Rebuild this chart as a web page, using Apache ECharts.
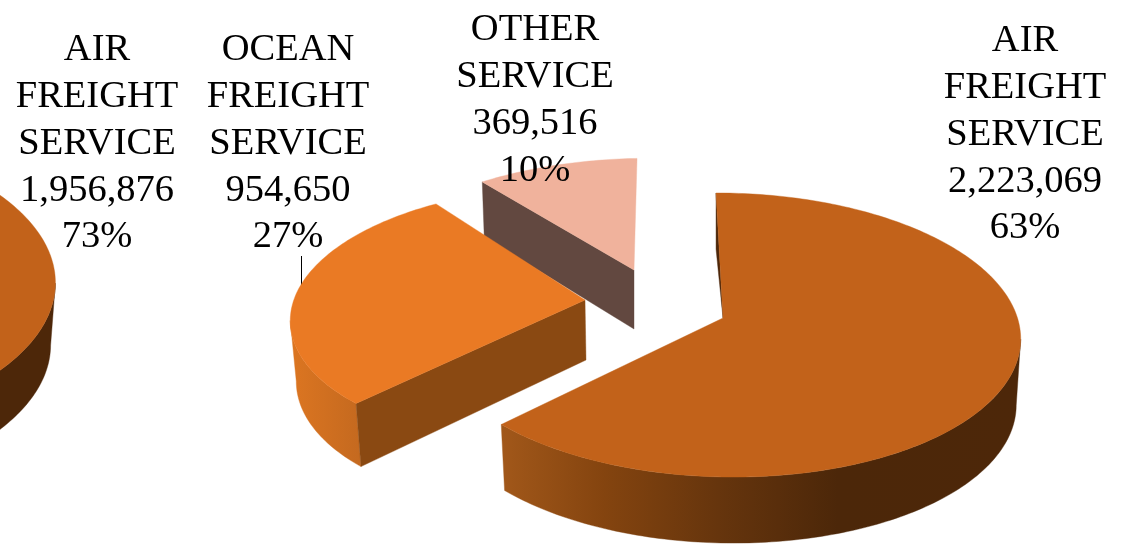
<!DOCTYPE html>
<html><head><meta charset="utf-8">
<style>html,body{margin:0;padding:0;background:#fff}#c{width:1127px;height:549px}</style>
<script src="https://cdn.jsdelivr.net/npm/echarts@6/dist/echarts.min.js"></script>
</head><body><div id="c"></div>
<script>
// ---- data ----
const categories = ['AIR FREIGHT SERVICE', 'OCEAN FREIGHT SERVICE', 'OTHER SERVICE'];
const values = [2223069, 954650, 369516];
const leftCategory = 'AIR FREIGHT SERVICE';
const leftValue = 1956876;
const leftPercent = 73;

// ---- look of each drawn slice: local perspective view ----
const views = [
  {ax:-263,ay:275,a:318,b:0,fy:155,g:0,h:0.05,drop:62,sx:0.985,sy:1,ox:0,top:'#C2621A',wall:'#4D2709'},
  {ax:634,ay:270,a:285,b:3.4,fy:125,g:-0.05,h:0.12,drop:59,sx:0.987,sy:1.045,ox:0,top:'#F0B29C',cut:'#624840'},
  {ax:585,ay:300,a:265,b:8,fy:126,g:0.09,h:0.12,drop:60,sx:0.983,sy:1.03,ox:1,top:'#EA7A24',cut:'#8A4912'},
  {ax:723,ay:318,a:293,b:-7.8,fy:140,g:-0.005,h:0.12,drop:66,sx:0.985,sy:1,ox:0,top:'#C2621A',cut:'#4D2709'}
];

const total = values.reduce((s, v) => s + v, 0);
const deg = v => v / total * 360;
// start and end angles, clockwise from twelve o'clock
const spans = [
  {from: 0, to: leftPercent / 100 * 360},
  {from: deg(values[0]) + deg(values[1]), to: 360},
  {from: deg(values[0]), to: deg(values[0]) + deg(values[1])},
  {from: 0, to: deg(values[0])}
];

function pt(v, t, z) {
  const r = t * Math.PI / 180, s = Math.sin(r), c = Math.cos(r);
  const w = 1 + v.g * s + v.h * c;
  let x = (v.a * s + v.b * c) / w, y = -v.fy * c / w;
  if (z) { x = x * v.sx + v.ox; y = y * v.sy + v.drop; }
  return [v.ax + x, v.ay + y];
}
function apex(v, z) { return z ? [v.ax + v.ox, v.ay + v.drop] : [v.ax, v.ay]; }
function arc(v, a, b, z) {
  const n = Math.max(2, Math.ceil(Math.abs(b - a))), out = [];
  for (let i = 0; i <= n; i++) out.push(pt(v, a + (b - a) * i / n, z));
  return out;
}
// angle of the widest point of the outline on one side
function widest(v, a, b, sign) {
  let best = a, bx = -Infinity;
  for (let t = a; t <= b; t += 0.5) { const x = sign * pt(v, t, 0)[0]; if (x > bx) { bx = x; best = t; } }
  return best;
}
const lg = (x0, x1, stops) => new echarts.graphic.LinearGradient(x0, 0, x1, 0, stops, true);

function renderSlice(params) {
  const i = params.dataIndex, v = views[i], sp = spans[i], kids = [];
  const poly = (points, fill) => kids.push({type:'polygon', shape:{points}, style:{fill, stroke:fill, lineWidth:0.4}});
  if (i === 3) {
    const a = widest(v, 40, 140, 1), b = sp.to;
    poly(arc(v, a, b, 0).concat(arc(v, b, a, 1)), lg(500, 1020, [
      {offset:0, color:'#A2581A'}, {offset:0.2, color:'#84440F'}, {offset:0.42, color:'#66350D'},
      {offset:0.65, color:'#4C2709'}, {offset:1, color:'#4D2709'}]));
    const t0 = pt(v, 0, 0);
    poly([t0, [t0[0], t0[1] + 56], apex(v, 0)], v.cut);
  } else if (i === 2) {
    const b = widest(v, sp.from, sp.to, -1);
    const s0 = pt(v, sp.from, 0), s1 = pt(v, sp.from, 1);
    poly(arc(v, sp.from, b, 0).concat(arc(v, b, sp.from, 1)),
      lg(293, s0[0] + 6, [{offset:0, color:'#DB7521'}, {offset:1, color:'#C4691F'}]));
    poly([apex(v, 0), s0, s1, apex(v, 1)], v.cut);
  } else if (i === 1) {
    const s0 = pt(v, sp.from, 0), s1 = pt(v, sp.from, 1);
    poly([apex(v, 0), s0, s1, apex(v, 1)], v.cut);
  } else {
    const a = widest(v, 40, 140, 1);
    poly(arc(v, a, 185, 0).concat(arc(v, 185, a, 1)), v.wall);
  }
  poly([apex(v, 0)].concat(arc(v, sp.from, sp.to, 0)), v.top);
  return {type:'group', children:kids};
}

const fmt = n => n.toLocaleString('en-US');
const pct = n => Math.round(n / total * 100) + '%';
const labelFont = {fontFamily:'"Liberation Serif", serif', fontSize:38.5, lineHeight:46.7, fill:'#000', align:'center', verticalAlign:'top'};
const txt = (x, y, lines) => ({type:'text', x, y, z:20, silent:true, style:Object.assign({text:lines.join('\n')}, labelFont)});

const chart = echarts.init(document.getElementById('c'), null, {renderer:'canvas'});
chart.setOption({
  animation:false,
  backgroundColor:'#fff',
  series:[{type:'custom', coordinateSystem:'none', silent:true, renderItem:renderSlice, data:views.map((_, i) => i), clip:false}],
  graphic:[
    {type:'line', z:1, silent:true, shape:{x1:301.5,y1:256,x2:301.5,y2:292}, style:{stroke:'#000',lineWidth:1}},
    txt(97, 27, leftCategory.split(' ').concat([fmt(leftValue), leftPercent + '%'])),
    txt(288, 27, categories[1].split(' ').concat([fmt(values[1]), pct(values[1])])),
    txt(535, 7, categories[2].split(' ').concat([fmt(values[2]), pct(values[2])])),
    txt(1025, 18, categories[0].split(' ').concat([fmt(values[0]), pct(values[0])]))
  ]
});
</script></body></html>
